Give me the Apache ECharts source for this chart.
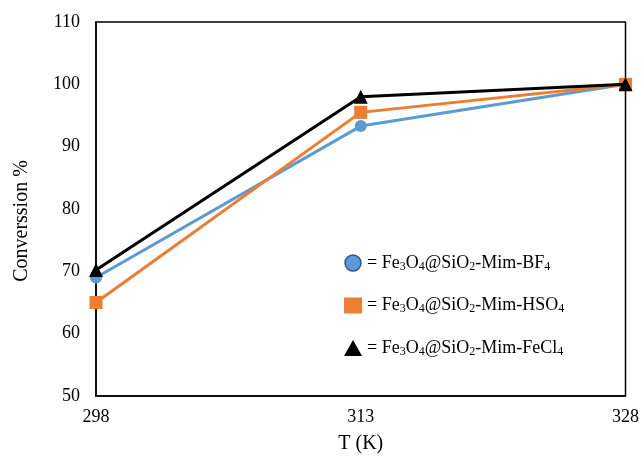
<!DOCTYPE html>
<html><head><meta charset="utf-8">
<script src="https://cdn.jsdelivr.net/npm/echarts@6/dist/echarts.min.js"></script>
<style>html,body{margin:0;padding:0;background:#fff}#c{width:642px;height:459px}</style>
</head><body><div id="c"></div>
<script>
var temps = [298, 313, 328];
var bf4 = [69, 93.3, 100];
var hso4 = [65, 95.5, 100];
var fecl4 = [70.2, 98, 100];
var names = ['BF4', 'HSO4', 'FeCl4'];
var labels = {
  'BF4': '= Fe{s|3}O{s|4}@SiO{s|2}-Mim-BF{s|4}',
  'HSO4': '= Fe{s|3}O{s|4}@SiO{s|2}-Mim-HSO{s|4}',
  'FeCl4': '= Fe{s|3}O{s|4}@SiO{s|2}-Mim-FeCl{s|4}'
};
function pts(v){ return temps.map(function(t,i){return [t, v[i]];}); }
var font = 'Liberation Serif, Times New Roman, serif';
var chart = echarts.init(document.getElementById('c'), null, {renderer:'canvas'});
chart.setOption({
  animation:false,
  backgroundColor:'#fff',
  grid:{left:96, right:16, top:22, bottom:62, show:true, borderColor:'#000', borderWidth:1.5},
  xAxis:{type:'value', min:298, max:328, interval:15,
    name:'T (K)', nameLocation:'middle', nameGap:38,
    nameTextStyle:{fontFamily:font, fontSize:20, color:'#000'},
    axisLine:{lineStyle:{color:'#000', width:1.5}}, axisTick:{show:false},
    splitLine:{show:false},
    axisLabel:{fontFamily:font, fontSize:18, color:'#000', margin:12}},
  yAxis:{type:'value', min:50, max:110, interval:10,
    name:'Converssion %', nameLocation:'middle', nameGap:64,
    nameTextStyle:{fontFamily:font, fontSize:20, color:'#000', padding:[0,24,0,0]},
    axisLine:{show:true, lineStyle:{color:'#000', width:1.5}}, axisTick:{show:false},
    splitLine:{show:false},
    axisLabel:{fontFamily:font, fontSize:18, color:'#000', margin:16}},
  legend:{orient:'vertical', left:339, top:249, itemGap:24, itemWidth:18, itemHeight:16,
    data:[
      {name:'BF4', icon:'circle', itemStyle:{color:'#5B9BD5', borderColor:'#2F5597', borderWidth:1.5}},
      {name:'HSO4', icon:'rect'},
      {name:'FeCl4', icon:'triangle'}
    ],
    formatter:function(n){return labels[n];},
    textStyle:{fontFamily:font, fontSize:18, color:'#000',
      rich:{s:{fontFamily:font, fontSize:12, color:'#000', verticalAlign:'bottom', padding:[7,0,0,0]}}}},
  series:[
    {name:'BF4', type:'line', data:pts(bf4), symbol:'circle', symbolSize:12,
      lineStyle:{color:'#5B9BD5', width:3}, itemStyle:{color:'#5B9BD5'}, z:2},
    {name:'HSO4', type:'line', data:pts(hso4), symbol:'rect', symbolSize:13,
      lineStyle:{color:'#ED7D31', width:3}, itemStyle:{color:'#ED7D31'}, z:3},
    {name:'FeCl4', type:'line', data:pts(fecl4), symbol:'triangle', symbolSize:14,
      lineStyle:{color:'#000', width:3}, itemStyle:{color:'#000'}, z:4}
  ]
});
</script></body></html>
